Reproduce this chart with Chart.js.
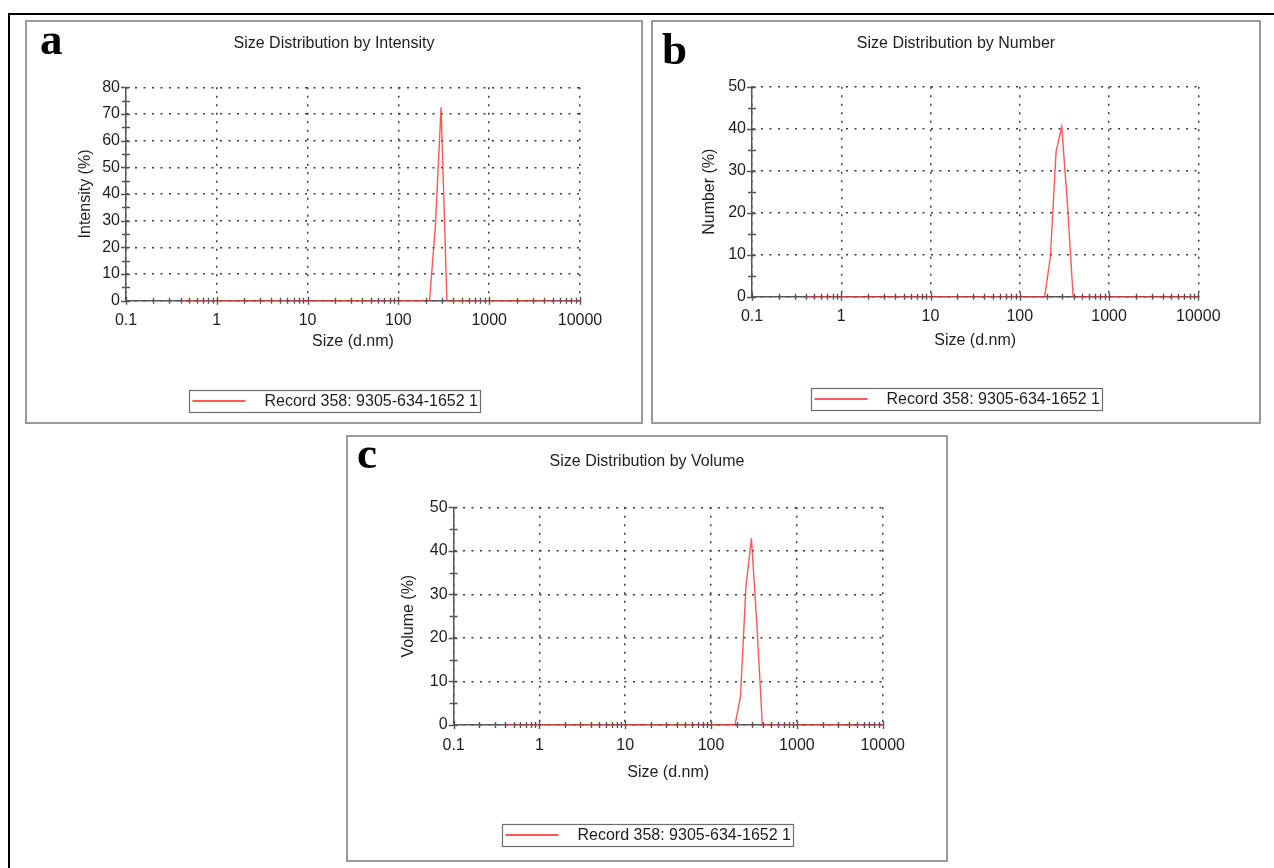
<!DOCTYPE html>
<html>
<head>
<meta charset="utf-8">
<title>Size distribution</title>
<script src="https://cdn.jsdelivr.net/npm/chart.js@4.4.1/dist/chart.umd.min.js"></script>
<style>
  html, body { margin: 0; background: #fff; }
  body { width: 1274px; height: 868px; position: relative; overflow: hidden; }
  .frame-top { position: absolute; left: 8px; top: 13px; right: 0; height: 2px; background: #000; }
  .frame-left { position: absolute; left: 8px; top: 13px; bottom: 0; width: 2px; background: #000; }
  .panel { position: absolute; box-sizing: border-box; border: 2px solid #9a9a9a; background: #fff; }
  .panel canvas { display: block; }
  .tag { position: absolute; z-index: 2; font: bold 45px/1 'Liberation Serif', 'Times New Roman', serif; color: #000; }
</style>
</head>
<body>
<div class="frame-top"></div>
<div class="frame-left"></div>

<div class="panel" style="left:25px;top:20px;width:618px;height:404px"><canvas id="chartIntensity" width="614" height="400"></canvas></div>
<div class="panel" style="left:651px;top:20px;width:610px;height:404px"><canvas id="chartNumber" width="606" height="400"></canvas></div>
<div class="panel" style="left:346px;top:435px;width:602px;height:427px"><canvas id="chartVolume" width="598" height="423"></canvas></div>

<div class="tag" style="left:40px;top:17px">a</div>
<div class="tag" style="left:662px;top:27px">b</div>
<div class="tag" style="left:357px;top:431px">c</div>

<script>
// size classes (d.nm) and the distribution read at each one
const SIZES = [0.4, 164.2, 190.1, 220.2, 255.0, 295.3, 342.0, 396.1, 458.7, 10000];
const INTENSITY = [0, 0, 0, 0, 27.5, 72.5, 0, 0, 0, 0];
const NUMBER = [0, 0, 0, 9.5, 34.5, 40.5, 22.0, 0, 0, 0];
const VOLUME = [0, 0, 0, 6.5, 31.8, 42.9, 23.0, 0, 0, 0];

const RECORD = 'Record 358: 9305-634-1652 1';
const X_DECADES = [0.1, 1, 10, 100, 1000, 10000];
const X_MINOR = [2, 3, 4, 5, 6, 7, 8, 9];

// ── Styles ────────────────────────────────────────────────

const FONT = "'Liberation Sans', Arial, sans-serif";
const FONT_SIZE = 16;
const TEXT = '#1e1e1e';
const AXIS = '#555';
const GRID = '#3c3c3c';
const RED = 'rgba(255, 45, 45, 0.8)';

function isDecade(v) {
  if (!(v > 0)) return false;
  const l = Math.log10(v);
  return Math.abs(l - Math.round(l)) < 1e-6;
}

function xTickValues() {
  const out = [];
  X_DECADES.forEach((d, i) => {
    out.push(d);
    if (i < X_DECADES.length - 1) X_MINOR.forEach(m => out.push(d * m));
  });
  return out;
}

// ── Tick marks crossing both axes ─────────────────────────

const axisTicks = {
  id: 'axisTicks',
  afterDatasetsDraw(chart) {
    const { ctx, chartArea: area, scales: { x, y } } = chart;
    ctx.save();
    ctx.strokeStyle = AXIS;
    ctx.lineWidth = 1.4;
    ctx.beginPath();
    x.ticks.forEach(t => {
      const px = Math.round(x.getPixelForValue(t.value)) + 0.5;
      const h = isDecade(t.value) ? 4 : 3;
      ctx.moveTo(px, area.bottom - h);
      ctx.lineTo(px, area.bottom + h);
    });
    y.ticks.forEach(t => {
      const py = Math.round(y.getPixelForValue(t.value)) + 0.5;
      const l = t.value % 10 === 0 ? 5 : 4;
      ctx.moveTo(area.left - l, py);
      ctx.lineTo(area.left + 4, py);
    });
    ctx.stroke();
    ctx.restore();
  },
};

// ── Panel title and record legend ─────────────────────────

const panelText = {
  id: 'panelText',
  afterDraw(chart, args, opts) {
    const { ctx, width } = chart;
    const ds = chart.data.datasets[0];
    ctx.save();
    ctx.fillStyle = TEXT;
    ctx.textBaseline = 'middle';
    ctx.textAlign = 'center';
    ctx.font = `${FONT_SIZE}px ${FONT}`;
    ctx.fillText(opts.title, width / 2, opts.titleY);

    const tw = ctx.measureText(ds.label).width;
    const boxW = Math.round(3 + 53 + 19 + tw + 3);
    const x0 = Math.round(width / 2 - boxW / 2) + 0.5;
    const y0 = Math.round(opts.legendY - 11) + 0.5;
    ctx.strokeStyle = '#6e6e6e';
    ctx.lineWidth = 1.2;
    ctx.strokeRect(x0, y0, boxW, 22);

    ctx.strokeStyle = ds.borderColor;
    ctx.lineWidth = 2;
    ctx.beginPath();
    ctx.moveTo(x0 + 3, opts.legendY);
    ctx.lineTo(x0 + 56, opts.legendY);
    ctx.stroke();

    ctx.textAlign = 'left';
    ctx.fillText(ds.label, x0 + 75, opts.legendY + 1);
    ctx.restore();
  },
};

// ── Chart factory ─────────────────────────────────────────

function sizeChart(id, p) {
  const font = { family: FONT, size: FONT_SIZE };
  return new Chart(document.getElementById(id), {
    type: 'line',
    data: {
      datasets: [{
        label: RECORD,
        data: SIZES.map((s, i) => ({ x: s, y: p.values[i] })),
        borderColor: RED,
        borderWidth: 1.4,
        pointRadius: 0,
        tension: 0,
      }],
    },
    options: {
      responsive: false,
      animation: false,
      events: [],
      layout: { padding: { left: 0, top: p.top, right: p.right, bottom: 0 } },
      plugins: {
        legend: { display: false },
        tooltip: { enabled: false },
        title: { display: false },
        panelText: { title: p.title, titleY: p.titleY, legendY: p.legendY },
      },
      scales: {
        x: {
          type: 'logarithmic',
          min: 0.1,
          max: 10000,
          afterBuildTicks: (s) => { s.ticks = xTickValues().map(v => ({ value: v })); },
          afterFit: (s) => { s.height = p.xHeight; },
          grid: {
            color: (c) => (c.tick && isDecade(c.tick.value) ? GRID : 'transparent'),
            lineWidth: 1.5,
            drawTicks: false,
          },
          border: { display: true, color: AXIS, width: 1.5, dash: [2, 6.5] },
          ticks: {
            autoSkip: false,
            maxRotation: 0,
            padding: p.xTickPad,
            color: TEXT,
            font,
            callback: (v) => (isDecade(v) ? String(v) : ''),
          },
          title: {
            display: true,
            text: 'Size (d.nm)',
            color: TEXT,
            font,
            padding: { top: 0, bottom: p.xTitlePad },
          },
        },
        y: {
          min: 0,
          max: p.yMax,
          afterFit: (s) => { s.width = p.yWidth; },
          grid: {
            color: (c) => (c.tick && c.tick.value % 10 === 0 ? GRID : 'transparent'),
            lineWidth: 1.5,
            drawTicks: false,
          },
          border: { display: true, color: AXIS, width: 1.5, dash: [2, 6.5] },
          ticks: {
            stepSize: 5,
            autoSkip: false,
            padding: 6,
            color: TEXT,
            font,
            callback: (v) => (v % 10 === 0 ? String(v) : ''),
          },
          title: {
            display: true,
            text: p.yTitle,
            color: TEXT,
            font,
            padding: { top: p.yTitlePad, bottom: 0 },
          },
        },
      },
    },
    plugins: [axisTicks, panelText],
  });
}

sizeChart('chartIntensity', {
  values: INTENSITY, title: 'Size Distribution by Intensity', yTitle: 'Intensity (%)', yMax: 80,
  top: 65.3, right: 61, yWidth: 99, xHeight: 121.3,
  titleY: 22, legendY: 379, xTickPad: 10.2, xTitlePad: 70.4, yTitlePad: 49.4,
});

sizeChart('chartNumber', {
  values: NUMBER, title: 'Size Distribution by Number', yTitle: 'Number (%)', yMax: 50,
  top: 64.7, right: 60.7, yWidth: 99, xHeight: 125.3,
  titleY: 22, legendY: 377, xTickPad: 10.2, xTitlePad: 71.4, yTitlePad: 47.4,
});

sizeChart('chartVolume', {
  values: VOLUME, title: 'Size Distribution by Volume', yTitle: 'Volume (%)', yMax: 50,
  top: 70.3, right: 63.3, yWidth: 105.6, xHeight: 135,
  titleY: 24.5, legendY: 398, xTickPad: 11.4, xTitlePad: 77.4, yTitlePad: 51.4,
});
</script>
</body>
</html>
